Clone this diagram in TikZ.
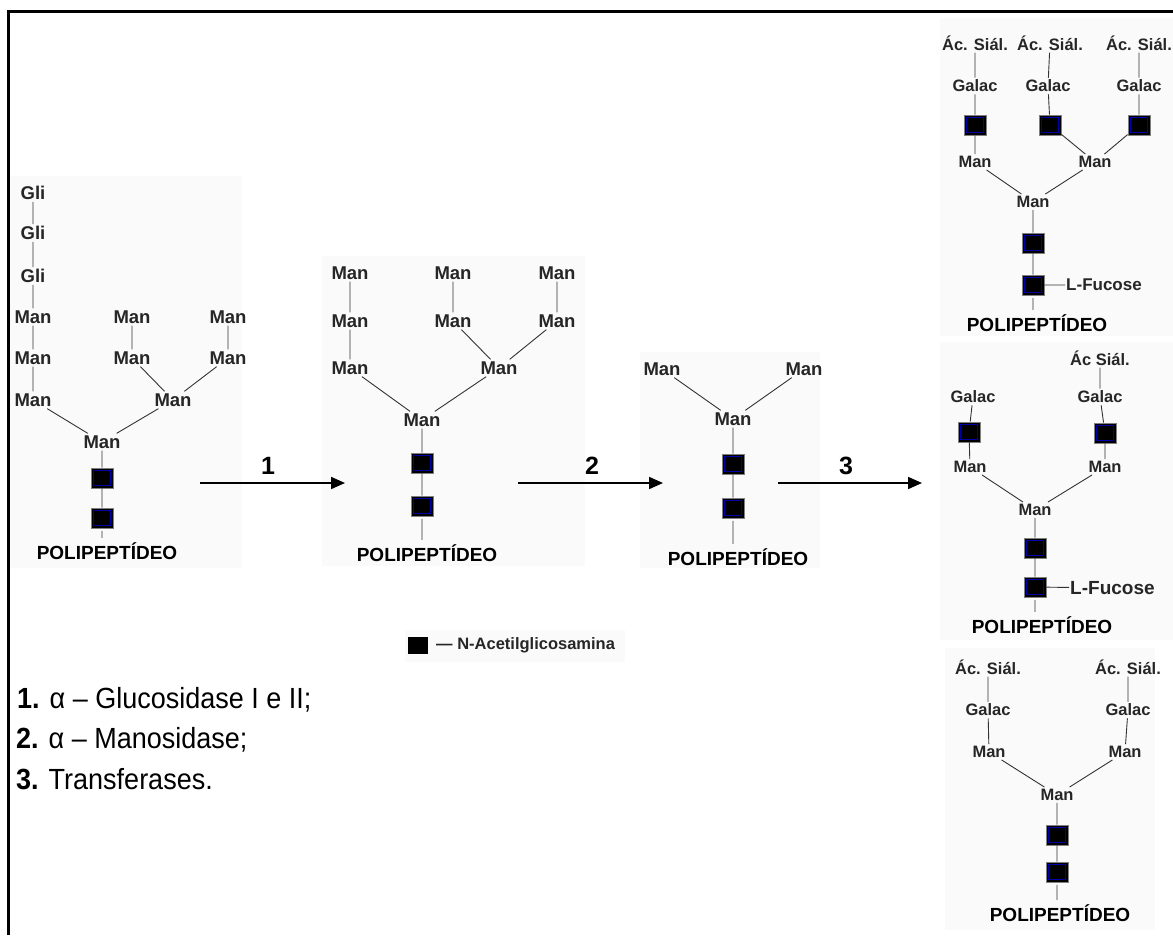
\documentclass[tikz,border=0pt]{standalone}
\usepackage{fontspec}
\setmainfont{Liberation Sans}
\usetikzlibrary{arrows.meta}
\begin{document}
\begin{tikzpicture}[x=1pt,y=-1pt,
  lbl/.style={font=\fontsize{18.5}{20}\selectfont\bfseries, text=black!85, inner sep=2pt},
  sial/.style={font=\fontsize{16.5}{19}\selectfont\bfseries, text=black!85, inner sep=2pt},
  poly/.style={font=\fontsize{19}{21}\selectfont\bfseries, text=black, inner sep=2pt},
  fuc/.style={font=\fontsize{17}{19}\selectfont\bfseries, text=black!85, inner sep=1pt, anchor=west},
  nag/.style={draw=black!50, fill=black, minimum width=22pt, minimum height=20pt, inner sep=0pt, line width=0.8pt,
    path picture={\draw[blue!65!black,line width=0.9pt] ([shift={(2.5pt,-2.5pt)}]path picture bounding box.north west) rectangle ([shift={(-2.5pt,2.5pt)}]path picture bounding box.south east);}},
  bond/.style={draw=black!80, line width=0.9pt, shorten >=2.5pt, shorten <=2.5pt},
  reac/.style={line width=1.8pt, -{Triangle[length=14pt,width=12pt]}},
  rlab/.style={font=\fontsize{25}{27}\selectfont\bfseries},
  bg/.style={fill=black!2, draw=none},
  item/.style={anchor=west, font=\fontsize{27}{30}\selectfont, inner sep=0pt}
]
\useasboundingbox (0,0) rectangle (1173,935);
\fill[white] (0,0) rectangle (1173,935);
% backgrounds
\fill[bg] (10,176) rectangle (242,568);
\fill[bg] (322,256) rectangle (585,566);
\fill[bg] (640,352) rectangle (820,568);
\fill[bg] (940,18) rectangle (1173,336);
\fill[bg] (940,342) rectangle (1173,640);
\fill[bg] (945,648) rectangle (1155,930);
\fill[bg] (405,630) rectangle (625,662);
% frame
\draw[line width=3pt] (8,935) -- (8,11) -- (1173,11);

% ---------- Tree 1 ----------
\node[lbl] (g1) at (33,193) {Gli};
\node[lbl] (g2) at (33,233) {Gli};
\node[lbl] (g3) at (33,276) {Gli};
\node[lbl] (m1a) at (33,317) {Man};
\node[lbl] (m1b) at (33,358) {Man};
\node[lbl] (m1c) at (33,400) {Man};
\node[lbl] (m2a) at (132,317) {Man};
\node[lbl] (m2b) at (132,358) {Man};
\node[lbl] (m2c) at (173,400) {Man};
\node[lbl] (m3a) at (228,317) {Man};
\node[lbl] (m3b) at (228,358) {Man};
\node[lbl] (r1) at (102,442) {Man};
\node[nag] (s1a) at (102,478) {};
\node[nag] (s1b) at (102,518) {};
\node[poly] (p1) at (107,551) {POLIPEPTÍDEO};
\path[bond] (g1)--(g2) (g2)--(g3) (g3)--(m1a) (m1a)--(m1b) (m1b)--(m1c) (m1c)--(r1)
  (m2a)--(m2b) (m2b)--(m2c) (m3a)--(m3b) (m3b)--(m2c) (m2c)--(r1)
  (r1)--(s1a) (s1a)--(s1b) (s1b)--(s1b |- p1.north);

% ---------- Tree 2 ----------
\node[lbl] (n1a) at (350,273) {Man};
\node[lbl] (n1b) at (350,321) {Man};
\node[lbl] (n1c) at (350,368) {Man};
\node[lbl] (n2a) at (453,273) {Man};
\node[lbl] (n2b) at (453,321) {Man};
\node[lbl] (n2c) at (499,368) {Man};
\node[lbl] (n3a) at (557,273) {Man};
\node[lbl] (n3b) at (557,321) {Man};
\node[lbl] (r2) at (422,420) {Man};
\node[nag] (s2a) at (422,463) {};
\node[nag] (s2b) at (422,506) {};
\node[poly] (p2) at (427,553) {POLIPEPTÍDEO};
\path[bond] (n1a)--(n1b) (n1b)--(n1c) (n1c)--(r2)
  (n2a)--(n2b) (n2b)--(n2c) (n3a)--(n3b) (n3b)--(n2c) (n2c)--(r2)
  (r2)--(s2a) (s2a)--(s2b) (s2b)--(s2b |- p2.north);

% ---------- Tree 3 ----------
\node[lbl] (t1) at (662,369) {Man};
\node[lbl] (t2) at (804,369) {Man};
\node[lbl] (r3) at (733,419) {Man};
\node[nag] (s3a) at (733,464) {};
\node[nag] (s3b) at (733,508) {};
\node[poly] (p3) at (738,557) {POLIPEPTÍDEO};
\path[bond] (t1)--(r3) (t2)--(r3) (r3)--(s3a) (s3a)--(s3b) (s3b)--(s3b |- p3.north);

% ---------- Right top ----------
\node[sial] (a1) at (975,43) {Ác. Siál.};
\node[sial] (a2) at (1050,43) {Ác. Siál.};
\node[sial] (a3) at (1139,43) {Ác. Siál.};
\node[sial] (b1) at (975,86) {Galac};
\node[sial] (b2) at (1048,86) {Galac};
\node[sial] (b3) at (1139,86) {Galac};
\node[nag] (c1) at (975,125) {};
\node[nag] (c2) at (1050,125) {};
\node[nag] (c3) at (1139,125) {};
\node[sial] (d1) at (975,162) {Man};
\node[sial] (d2) at (1095,162) {Man};
\node[sial] (r4) at (1033,202) {Man};
\node[nag] (s4a) at (1033,243) {};
\node[nag] (s4b) at (1033,285) {};
\node[fuc] (f4) at (1065,285) {L-Fucose};
\node[poly] (p4) at (1037,323) {POLIPEPTÍDEO};
\path[bond] (a1)--(b1) (b1)--(c1) (c1)--(d1) (a2)--(b2) (b2)--(c2) (c2)--(d2)
  (a3)--(b3) (b3)--(c3) (c3)--(d2) (d1)--(r4) (d2)--(r4)
  (r4)--(s4a) (s4a)--(s4b) (s4b)--(f4) (s4b)--(s4b |- p4.north);

% ---------- Right middle ----------
\node[sial] (e1) at (973,397) {Galac};
\node[nag] (e2) at (969,432) {};
\node[sial] (e3) at (970,467) {Man};
\node[sial] (h0) at (1100,358) {Ác Siál.};
\node[sial] (h1) at (1100,397) {Galac};
\node[nag] (h2) at (1105,433) {};
\node[sial] (h3) at (1105,467) {Man};
\node[sial] (r5) at (1035,510) {Man};
\node[nag] (s5a) at (1035,548) {};
\node[nag] (s5b) at (1035,587) {};
\node[fuc, font=\fontsize{19}{21}\selectfont\bfseries] (f5) at (1069,588) {L-Fucose};
\node[poly] (p5) at (1042,625) {POLIPEPTÍDEO};
\path[bond] (e1)--(e2) (e2)--(e3) (h0)--(h1) (h1)--(h2) (h2)--(h3)
  (e3)--(r5) (h3)--(r5) (r5)--(s5a) (s5a)--(s5b) (s5b)--(f5) (s5b)--(s5b |- p5.north);

% ---------- Right bottom ----------
\node[sial] (k1) at (988,667) {Ác. Siál.};
\node[sial] (k2) at (1128,667) {Ác. Siál.};
\node[sial] (l1) at (988,710) {Galac};
\node[sial] (l2) at (1128,710) {Galac};
\node[sial] (o1) at (989,752) {Man};
\node[sial] (o2) at (1125,752) {Man};
\node[sial] (r6) at (1057,795) {Man};
\node[nag] (s6a) at (1057,835) {};
\node[nag] (s6b) at (1057,872) {};
\node[poly] (p6) at (1060,913) {POLIPEPTÍDEO};
\path[bond] (k1)--(l1) (l1)--(o1) (k2)--(l2) (l2)--(o2) (o1)--(r6) (o2)--(r6)
  (r6)--(s6a) (s6a)--(s6b) (s6b)--(s6b |- p6.north);

% ---------- Reaction arrows ----------
\coordinate (a1s) at (200,483); \coordinate (a1e) at (345,483);
\coordinate (a2s) at (518,483); \coordinate (a2e) at (663,483);
\coordinate (a3s) at (778,483); \coordinate (a3e) at (922,483);
\draw[reac] (a1s) -- (a1e);
\draw[reac] (a2s) -- (a2e);
\draw[reac] (a3s) -- (a3e);
\node[rlab] (l1lab) at (268,466) {1};
\node[rlab] (l2lab) at (592,466) {2};
\node[rlab] (l3lab) at (846,466) {3};

% ---------- Legend ----------
\node[fill=black, minimum width=20pt, minimum height=17pt, inner sep=0pt] (leg) at (418,645) {};
\node[anchor=west, font=\fontsize{16.5}{18}\selectfont\bfseries, text=black!85, inner sep=0pt] (legt) at (436,645) {— N-Acetilglicosamina};

% ---------- Enzyme list ----------
\node[item] (i1) at (17,700) {\scalebox{1}[1.08]{\textbf{1.} α – Glucosidase I e II;}};
\node[item] (i2) at (16,740) {\scalebox{1}[1.08]{\textbf{2.} α – Manosidase;}};
\node[item] (i3) at (16,779) {\scalebox{1}[1.08]{\textbf{3.} Transferases.}};
\end{tikzpicture}
\end{document}
